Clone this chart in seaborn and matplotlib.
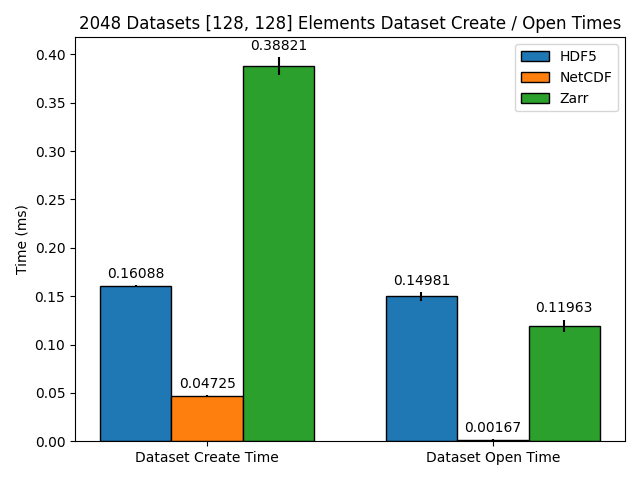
import pandas as pd
import numpy as np
import matplotlib
matplotlib.use("Agg")
import matplotlib.pyplot as plt
import seaborn as sns

categories = ["Dataset Create Time", "Dataset Open Time"]
formats = ["HDF5", "NetCDF", "Zarr"]
hdf5_times = [0.16088, 0.14981]
netcdf_times = [0.04725, 0.00167]
zarr_times = [0.38821, 0.11963]
hdf5_err = [0.0007, 0.0047]
netcdf_err = [0.0005, 0.0003]
zarr_err = [0.0093, 0.0062]

colors = ["#1f77b4", "#ff7f0e", "#2ca02c"]

rows = []
for fmt, vals, errs in zip(formats, [hdf5_times, netcdf_times, zarr_times],
                           [hdf5_err, netcdf_err, zarr_err]):
    for cat, v, e in zip(categories, vals, errs):
        rows.append({"Operation": cat, "Format": fmt, "Time": v, "Err": e})
df = pd.DataFrame(rows)

fig, ax = plt.subplots(figsize=(6.4, 4.8), dpi=100)
sns.barplot(data=df, x="Operation", y="Time", hue="Format", order=categories,
            hue_order=formats, palette=colors, saturation=1, width=0.75,
            edgecolor="black", linewidth=1, errorbar=None, ax=ax)

# error bars and value labels from the drawn bars
for i, fmt in enumerate(formats):
    sub = df[df["Format"] == fmt].set_index("Operation").loc[categories]
    bars = ax.containers[i]
    xs = [b.get_x() + b.get_width() / 2 for b in bars]
    ax.errorbar(xs, sub["Time"], yerr=sub["Err"], fmt="none", ecolor="black",
                elinewidth=1.5, capsize=0)
    for x, v, e in zip(xs, sub["Time"], sub["Err"]):
        ax.annotate(f"{v:.5f}", (x, v + e), xytext=(0, 3), textcoords="offset points",
                    ha="center", va="bottom", fontsize=10)

ax.set_xlim(-0.4625, 1.4625)
ax.set_ylim(0, 0.4175)
ax.set_xlabel("")
ax.set_ylabel("Time (ms)")
ax.set_title("2048 Datasets [128, 128] Elements Dataset Create / Open Times")
handles, labels = ax.get_legend_handles_labels()
ax.legend(handles, labels, loc="upper right", title=None)
plt.tight_layout()
plt.savefig("out.png")
